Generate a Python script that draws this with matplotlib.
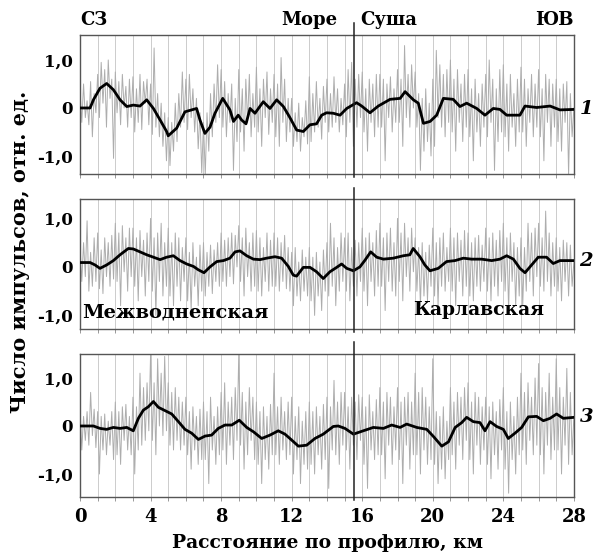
import matplotlib as mpl
import matplotlib.pyplot as plt
import numpy as np

mpl.rcParams.update({
    "font.family": "DejaVu Serif",
    "font.weight": "bold",
    "font.size": 12,
})

# distance step of the raw (gray) records, km
step = 0.1

# raw counts, profile 1 (one row per km)
raw1 = [
    0.35, -0.30, 0.50, -0.20, 0.15, -0.35, 0.55, -0.60, 0.30, -0.10,
    0.70, -0.20, 0.95, 0.10, 0.80, -0.40, 1.00, 0.20, 0.60, -1.05,
    0.75, -0.10, 0.55, -0.35, 0.70, 0.00, 0.45, -0.40, 0.60, -0.20,
    0.65, -0.50, 0.40, -0.30, 0.70, -0.45, 0.55, 0.10, 0.60, -0.35,
    0.50, -0.55, 1.25, -0.40, 0.30, -0.60, 0.10, -0.80, -0.10, -1.10,
    -0.20, -1.20, -0.30, -0.90, 0.10, -0.70, 0.30, -0.40, 0.75, -0.30,
    0.60, -0.45, 0.70, -0.20, 0.40, -0.50, 0.20, -0.85, -0.10, -1.35,
    -0.30, -1.40, -0.10, -0.90, 0.30, -0.60, 0.50, -0.30, 0.90, -0.20,
    0.80, -0.40, 0.55, -0.60, 0.30, -0.30, 0.50, -1.30, 0.20, -0.70,
    0.80, -0.50, 0.40, -0.90, 0.60, -0.30, 0.70, -0.60, 0.30, -0.40,
    0.85, -0.50, 0.40, -0.80, 0.60, -0.20, 0.75, -0.55, 0.40, -0.30,
    0.70, -0.60, 0.50, -0.80, 1.05, -0.30, 0.60, -0.70, 0.20, -0.50,
    0.20, -0.80, -0.10, -0.70, 0.10, -0.90, -0.20, -0.60, 0.15, -0.75,
    0.65, -0.70, 0.30, -0.50, 0.55, -0.40, 0.20, -0.65, 0.45, -0.30,
    0.60, -0.50, 0.30, -0.40, 0.65, -0.30, 0.40, -0.50, 0.20, -0.35,
    0.50, -0.60, 0.80, -0.30, 0.95, -0.80, 0.60, -0.40, 0.70, -0.20,
    0.75, -0.50, 0.40, -0.90, 0.60, -0.30, 0.50, -0.60, 0.70, -0.40,
    0.70, -0.40, 0.60, -1.10, 0.50, -0.20, 0.65, -0.50, 0.40, -0.30,
    0.80, -0.30, 0.60, -0.80, 1.30, -0.20, 0.70, -0.40, 0.90, 0.00,
    0.75, -0.40, 0.30, -1.30, 0.20, -0.90, 0.40, -0.70, 0.10, -1.00,
    0.60, -0.80, 1.20, -0.20, 0.90, -0.40, 0.70, -0.60, 0.80, -0.30,
    1.00, -0.50, 0.60, -0.90, 0.80, -0.30, 0.50, -0.70, 0.70, -0.40,
    0.80, -0.60, 0.40, -1.10, 0.60, -0.50, 0.30, -0.80, 0.50, -0.40,
    0.70, -0.60, 1.00, -0.30, 0.60, -1.30, 0.40, -0.70, 0.80, -0.50,
    0.90, -0.60, 0.50, -0.90, 0.70, -0.40, 0.30, -0.80, 0.60, -0.50,
    0.85, -0.50, 0.60, -0.80, 0.40, -0.30, 0.70, -0.60, 0.50, -0.40,
    0.80, -0.60, 0.40, -1.10, 0.70, -0.30, 0.60, -0.80, 0.50, -0.40,
    0.60, -0.70, 0.40, -0.90, 0.50, -0.30, 0.55, -1.40, 0.30, -0.60,
    0.00,
]

# raw counts, profile 2
raw2 = [
    0.40, -0.30, 0.50, -0.20, 0.95, -0.50, 0.30, -0.40, 0.60, -0.30,
    0.70, -0.45, 0.35, -0.55, 0.60, -0.20, 0.50, -0.40, 0.65, -0.25,
    0.90, -0.30, 0.70, -0.80, 0.85, -0.10, 0.60, -0.50, 0.80, -0.20,
    0.80, -0.40, 0.60, -0.70, 0.75, -0.20, 0.55, -0.60, 0.70, -0.30,
    1.00, -0.50, 0.60, -1.00, 0.70, -0.30, 0.90, -0.60, 0.50, -0.40,
    0.80, -0.60, 0.50, -0.80, 0.70, -0.40, 0.60, -0.70, 0.40, -0.30,
    0.60, -0.70, 0.30, -0.90, 0.50, -0.40, 0.20, -0.80, 0.45, -0.50,
    0.50, -0.60, 0.30, -0.40, 0.45, -0.55, 0.35, -0.30, 0.50, -0.40,
    0.70, -0.30, 0.55, -0.40, 0.60, -0.20, 0.70, -0.35, 0.65, 0.00,
    0.85, -0.30, 0.60, -0.60, 0.80, -0.20, 0.50, -0.50, 0.70, -0.40,
    0.75, -0.50, 0.60, -0.60, 0.40, -0.30, 0.70, -0.50, 0.55, -0.40,
    0.70, -0.40, 0.60, -0.50, 0.50, -0.30, 0.65, -0.45, 0.40, -0.50,
    0.30, -0.80, 0.40, -0.60, 0.10, -0.70, 0.35, -0.50, 0.20, -0.60,
    0.40, -0.70, 0.20, -1.00, 0.30, -0.60, 0.10, -0.90, 0.35, -0.50,
    0.50, -0.60, 0.90, -0.40, 0.60, -0.80, 0.40, -0.50, 0.70, -0.30,
    0.60, -0.50, 0.70, -0.70, 0.40, -0.40, 0.55, -0.60, 0.50, -0.30,
    0.80, -0.50, 0.60, -0.80, 0.70, -0.30, 0.50, -0.60, 0.75, -0.40,
    0.90, -0.40, 0.60, -0.90, 0.70, -0.30, 0.80, -0.50, 0.50, -0.60,
    1.00, -0.30, 0.70, -0.70, 0.90, -0.20, 0.60, -0.50, 0.80, -0.10,
    0.60, -0.50, 0.40, -0.80, 0.50, -0.60, 0.30, -0.70, 0.45, -0.40,
    0.80, -0.60, 0.50, -0.80, 0.60, -0.40, 0.70, -0.50, 0.40, -0.30,
    0.80, -0.50, 0.60, -0.80, 0.70, -0.30, 0.55, -0.60, 0.75, -0.40,
    0.70, -0.60, 0.50, -0.70, 0.60, -0.40, 0.65, -0.50, 0.45, -0.30,
    0.80, -0.50, 0.60, -0.70, 0.70, -0.40, 0.55, -0.60, 0.75, -0.30,
    0.90, -0.50, 0.60, -0.90, 0.70, -0.30, 0.50, -0.80, 0.40, -0.60,
    0.60, -0.80, 0.40, -0.50, 0.90, -0.30, 0.70, -0.60, 0.80, -0.20,
    0.90, -0.40, 0.60, -0.50, 1.15, -0.30, 0.70, -0.60, 0.50, -0.40,
    0.60, -0.50, 0.40, -0.70, 0.55, -0.30, 0.50, -0.60, 0.45, -0.40,
    0.10,
]

# raw counts, profile 3
raw3 = [
    0.40, -0.50, 0.20, -0.30, 0.30, -0.40, 0.70, -0.20, 0.35, -0.45,
    0.30, -1.00, 0.20, -0.50, 0.25, -0.60, 0.10, -0.40, 0.30, -0.70,
    0.50, -0.60, 0.30, -0.80, 0.40, -0.30, 0.45, -0.50, 0.20, -0.60,
    0.60, -1.00, 0.40, -0.50, 1.10, -0.40, 0.80, -0.30, 0.90, -0.10,
    1.50, -0.30, 0.90, -0.60, 1.40, 0.00, 1.10, -0.20, 1.45, -0.10,
    0.90, -0.40, 0.70, -0.50, 0.80, -0.30, 0.60, -0.50, 0.50, -0.40,
    0.60, -0.60, 0.30, -0.90, 0.40, -0.50, 0.20, -0.80, 0.35, -0.70,
    0.50, -0.70, 0.30, -1.20, 0.60, -0.50, 0.20, -0.80, 0.40, -0.60,
    0.70, -0.50, 0.90, -0.80, 0.50, -0.40, 0.60, -0.70, 0.80, -0.30,
    1.50, -0.40, 0.70, -0.90, 0.50, -0.60, 0.80, -0.30, 0.60, -0.70,
    0.50, -0.80, 0.30, -1.20, 0.40, -0.70, 0.20, -0.90, 0.45, -0.60,
    1.10, -0.60, 0.40, -0.80, 0.60, -0.50, 0.30, -0.70, 0.50, -0.60,
    0.60, -1.00, 0.20, -0.70, 0.40, -1.20, 0.10, -0.80, 0.30, -0.90,
    0.50, -0.80, 0.30, -1.00, 0.40, -0.60, 0.20, -0.90, 0.45, -0.70,
    0.60, -1.30, 0.40, -0.50, 0.95, -0.60, 0.50, -0.80, 0.70, -0.40,
    0.70, -0.50, 0.40, -0.90, 0.60, -0.40, 0.50, -0.70, 0.65, -0.30,
    0.60, -0.80, 0.40, -1.30, 0.65, -0.50, 0.30, -0.70, 0.55, -0.60,
    0.80, -0.60, 0.50, -1.10, 0.70, -0.40, 0.60, -0.80, 0.40, -0.50,
    0.80, -0.70, 0.50, -1.20, 0.60, -0.40, 0.70, -0.90, 0.50, -0.60,
    1.10, -0.60, 0.70, -1.00, 0.80, -0.50, 0.60, -0.80, 0.40, -0.70,
    1.40, -0.80, 0.30, -1.20, 0.20, -0.90, 0.40, -1.10, 0.10, -0.70,
    0.80, -0.60, 0.50, -0.90, 0.70, -0.40, 0.60, -0.70, 0.80, -0.30,
    0.90, -0.70, 0.50, -1.00, 0.70, -0.40, 0.60, -0.80, 0.40, -0.50,
    0.60, -0.80, 0.40, -1.10, 0.50, -0.60, 0.30, -0.90, 0.55, -0.50,
    0.80, -0.90, 0.30, -1.40, 0.50, -0.70, 0.20, -1.00, 0.60, -0.60,
    1.10, -0.50, 0.70, -0.80, 0.90, -0.30, 0.60, -0.60, 1.00, -0.40,
    1.30, -0.60, 0.80, -1.00, 0.70, -0.40, 1.10, -0.70, 0.60, -0.50,
    1.40, -0.50, 0.80, -1.00, 0.60, -0.40, 1.20, -0.80, 0.70, -0.60,
    0.20,
]

# smoothed curves (black): distance, km / value
sm1_x = [0.0, 0.57, 0.76, 1.13, 1.51, 1.89, 2.27, 2.65, 3.02, 3.40, 3.78, 4.16,
         4.54, 4.91, 5.0, 5.48, 5.95, 6.61, 6.80, 7.08, 7.37, 7.65, 8.09, 8.5,
         8.7, 8.97, 9.16, 9.41, 9.64, 9.92, 10.39, 10.77, 11.15, 11.53, 11.9,
         12.28, 12.66, 13.04, 13.41, 13.7, 13.98, 14.36, 14.74, 15.12, 15.68,
         15.97, 16.44, 16.91, 17.58, 18.15, 18.43, 18.9, 19.18, 19.47, 19.85,
         20.22, 20.60, 21.16, 21.54, 21.92, 22.49, 22.96, 23.43, 23.81, 24.19,
         24.94, 25.23, 25.89, 26.65, 27.21, 28.0]
sm1_y = [0.0, 0.0, 0.17, 0.41, 0.51, 0.38, 0.17, 0.03, 0.06, 0.04, 0.17, -0.01,
         -0.25, -0.49, -0.58, -0.42, -0.08, -0.01, -0.25, -0.53, -0.40, -0.11,
         0.20, -0.04, -0.28, -0.15, -0.25, -0.33, -0.01, -0.11, 0.13, -0.01,
         0.17, 0.03, -0.20, -0.46, -0.49, -0.35, -0.33, -0.15, -0.10, -0.11,
         -0.15, -0.01, 0.11, 0.04, -0.10, 0.04, 0.18, 0.20, 0.34, 0.17, 0.10,
         -0.32, -0.28, -0.15, 0.20, 0.18, 0.03, 0.10, -0.01, -0.15, -0.01,
         -0.03, -0.15, -0.15, 0.04, 0.01, 0.04, -0.04, -0.03]

sm2_x = [0.0, 0.57, 0.85, 1.13, 1.51, 1.89, 2.27, 2.74, 3.02, 3.40, 3.78, 4.16,
         4.54, 4.91, 5.29, 5.67, 6.05, 6.43, 6.71, 7.03, 7.37, 7.75, 8.13, 8.50,
         8.79, 9.07, 9.45, 9.83, 10.2, 10.58, 11.05, 11.43, 11.81, 12.09, 12.28,
         12.66, 13.04, 13.41, 13.79, 14.17, 14.55, 14.83, 15.12, 15.5, 15.87,
         16.16, 16.48, 16.82, 17.2, 17.76, 18.33, 18.7, 18.89, 19.27, 19.55,
         19.84, 20.31, 20.78, 21.26, 21.73, 22.2, 22.77, 23.34, 23.81, 24.19,
         24.57, 24.94, 25.23, 25.51, 25.98, 26.45, 26.83, 27.21, 28.0]
sm2_y = [0.09, 0.09, 0.04, -0.03, 0.04, 0.13, 0.25, 0.38, 0.37, 0.31, 0.25, 0.20,
         0.15, 0.20, 0.23, 0.13, 0.06, 0.01, -0.06, -0.12, 0.0, 0.11, 0.13, 0.18,
         0.31, 0.33, 0.23, 0.16, 0.15, 0.18, 0.21, 0.18, 0.01, -0.17, -0.19,
         -0.01, -0.01, -0.10, -0.24, -0.10, -0.01, 0.06, -0.03, -0.08, 0.0,
         0.14, 0.31, 0.20, 0.16, 0.18, 0.23, 0.25, 0.38, 0.21, 0.04, -0.08,
         -0.03, 0.11, 0.13, 0.18, 0.16, 0.16, 0.13, 0.16, 0.23, 0.16, -0.03,
         -0.12, 0.0, 0.20, 0.20, 0.07, 0.13, 0.13]

sm3_x = [0.0, 0.76, 1.13, 1.51, 1.89, 2.27, 2.65, 3.02, 3.31, 3.59, 3.87, 4.16,
         4.44, 4.82, 5.2, 5.58, 5.95, 6.33, 6.71, 7.09, 7.46, 7.84, 8.22, 8.6,
         9.03, 9.45, 9.83, 10.3, 10.77, 11.24, 11.62, 11.99, 12.38, 12.85,
         13.32, 13.79, 14.36, 14.64, 15.02, 15.5, 16.06, 16.63, 17.2, 17.67,
         18.15, 18.52, 19.09, 19.66, 20.04, 20.51, 20.89, 21.27, 21.64, 21.92,
         22.3, 22.68, 22.96, 23.25, 23.62, 24.0, 24.28, 24.66, 25.04, 25.42,
         25.89, 26.27, 26.65, 27.02, 27.4, 28.0]
sm3_y = [0.0, 0.0, -0.05, -0.07, -0.03, -0.05, -0.03, -0.10, 0.16, 0.33, 0.40,
         0.51, 0.39, 0.32, 0.25, 0.09, -0.07, -0.15, -0.28, -0.21, -0.19, -0.05,
         0.02, 0.02, 0.12, -0.03, -0.12, -0.26, -0.19, -0.10, -0.17, -0.29,
         -0.42, -0.40, -0.26, -0.17, -0.01, 0.0, -0.05, -0.17, -0.10, -0.03,
         -0.05, 0.02, -0.03, 0.04, -0.03, -0.07, -0.22, -0.42, -0.33, -0.03,
         0.07, 0.18, 0.09, 0.07, -0.10, 0.09, -0.01, -0.07, -0.26, -0.15, -0.03,
         0.19, 0.20, 0.11, 0.16, 0.25, 0.16, 0.18]

profiles = [
    (raw1, sm1_x, sm1_y, "1", (-1.375, 1.52)),
    (raw2, sm2_x, sm2_y, "2", (-1.28, 1.40)),
    (raw3, sm3_x, sm3_y, "3", (-1.48, 1.50)),
]
sea_land_km = 15.55

# axes rectangles in figure fractions (left, bottom, width, height)
rects = [
    (0.1345, 0.6848, 0.830, 0.2518),
    (0.1345, 0.4040, 0.830, 0.2355),
    (0.1345, 0.0996, 0.830, 0.2591),
]

fig = plt.figure(figsize=(5.95, 5.52), dpi=100)
axes = []
for (raw, sx, sy, num, ylim), rect in zip(profiles, rects):
    ax = fig.add_axes(rect)
    x = np.arange(len(raw)) * step
    for k in range(1, 28):
        ax.axvline(k, color="#c4c4c4", lw=0.6, zorder=0)
    ax.plot(x, raw, color="#adadad", lw=0.7, zorder=1)
    ax.plot(sx, sy, color="black", lw=2.0, zorder=3)
    ax.plot([sea_land_km, sea_land_km], [-0.02, 1.085], transform=ax.get_xaxis_transform(),
            color="#222222", lw=1.1, clip_on=False, zorder=4)
    ax.set_xlim(0, 28)
    ax.set_ylim(*ylim)
    ax.set_yticks([-1, 0, 1])
    ax.set_yticklabels(["-1,0", "0", "1,0"])
    ax.set_xticks(np.arange(0, 29, 4))
    ax.set_xticks(np.arange(0, 29, 1), minor=True)
    ax.tick_params(axis="y", length=0, labelsize=12, pad=5)
    ax.tick_params(axis="x", which="both", length=3, width=0.6, color="#888888",
                   direction="out")
    for sp in ax.spines.values():
        sp.set_color("#555555")
        sp.set_linewidth(1.0)
    ax.annotate(num, xy=(28, sy[-1]), xytext=(4, 0), textcoords="offset points",
                va="center", ha="left", fontsize=14, style="italic", annotation_clip=False)
    axes.append(ax)

for ax in axes[:2]:
    ax.set_xticklabels([])
axes[2].tick_params(axis="x", pad=5, labelsize=13)

a1 = axes[0]
a1.text(0, 1.04, "СЗ", transform=a1.transAxes, ha="left", va="bottom", fontsize=13)
a1.text(0.522, 1.04, "Море", transform=a1.transAxes, ha="right", va="bottom", fontsize=13)
a1.text(0.567, 1.04, "Суша", transform=a1.transAxes, ha="left", va="bottom", fontsize=13)
a1.text(1.0, 1.04, "ЮВ", transform=a1.transAxes, ha="right", va="bottom", fontsize=13)

a2 = axes[1]
a2.text(0.005, 0.13, "Межводненская", transform=a2.transAxes, ha="left", va="center",
        fontsize=14, zorder=5)
a2.text(0.94, 0.145, "Карлавская", transform=a2.transAxes, ha="right", va="center",
        fontsize=13.5, zorder=5)

fig.text(0.034, 0.543, "Число импульсов, отн. ед.", rotation=90, ha="center", va="center",
         fontsize=15)
fig.text(0.55, 0.016, "Расстояние по профилю, км", ha="center", va="center", fontsize=13.5)

fig.savefig("out.png", dpi=100)
